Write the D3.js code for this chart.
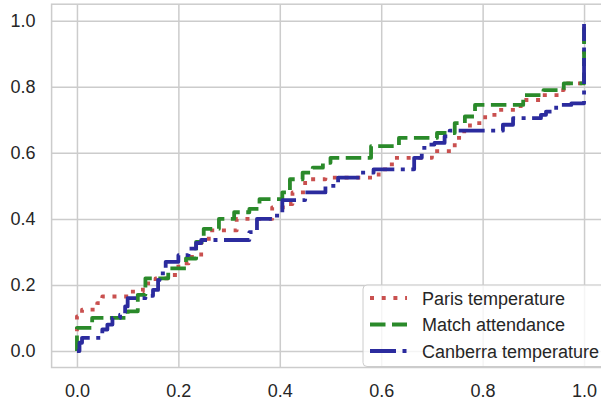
<!DOCTYPE html>
<html>
<head>
<meta charset="utf-8">
<script src="https://cdn.jsdelivr.net/npm/d3@7"></script>
<style>
  body { margin: 0; background: #fff; }
  text { font-family: "Liberation Sans", Arial, sans-serif; fill: #262626; }
</style>
</head>
<body>
<div id="chart"></div>
<script>
// step curves (step after each point)
const parisX = [0, 0, 0.01, 0.04, 0.05, 0.105, 0.13, 0.155, 0.185, 0.2, 0.22, 0.245, 0.26, 0.315, 0.385, 0.41, 0.425, 0.45, 0.49, 0.595, 0.615, 0.625, 0.7, 0.745, 0.76, 0.775, 0.805, 0.83, 0.875, 0.915, 0.95, 0.96, 1.0]
const parisY = [0.06, 0.105, 0.125, 0.145, 0.165, 0.18, 0.205, 0.22, 0.23, 0.265, 0.285, 0.33, 0.365, 0.4, 0.435, 0.445, 0.48, 0.52, 0.525, 0.55, 0.565, 0.585, 0.605, 0.645, 0.665, 0.69, 0.715, 0.73, 0.76, 0.775, 0.79, 0.81, 0.99]

const matchX = [0, 0, 0.03, 0.1, 0.12, 0.135, 0.18, 0.215, 0.235, 0.25, 0.28, 0.31, 0.34, 0.36, 0.405, 0.42, 0.445, 0.465, 0.485, 0.5, 0.58, 0.635, 0.71, 0.745, 0.765, 0.785, 0.88, 0.92, 0.96, 1.0]
const matchY = [0, 0.07, 0.1, 0.12, 0.17, 0.22, 0.25, 0.28, 0.33, 0.37, 0.4, 0.42, 0.43, 0.46, 0.48, 0.52, 0.54, 0.555, 0.57, 0.585, 0.62, 0.645, 0.66, 0.69, 0.71, 0.745, 0.775, 0.79, 0.81, 0.99]

const canberraX = [0, 0.005, 0.01, 0.05, 0.06, 0.07, 0.085, 0.095, 0.1, 0.135, 0.15, 0.16, 0.163, 0.175, 0.2, 0.22, 0.235, 0.245, 0.34, 0.355, 0.39, 0.405, 0.45, 0.49, 0.515, 0.56, 0.585, 0.665, 0.68, 0.69, 0.705, 0.725, 0.735, 0.84, 0.86, 0.915, 0.925, 0.945, 0.975, 1.0]
const canberraY = [0, 0.025, 0.04, 0.065, 0.08, 0.1, 0.11, 0.135, 0.16, 0.167, 0.185, 0.215, 0.235, 0.27, 0.29, 0.31, 0.327, 0.336, 0.36, 0.4, 0.41, 0.457, 0.48, 0.5, 0.525, 0.54, 0.55, 0.585, 0.615, 0.625, 0.63, 0.65, 0.667, 0.685, 0.705, 0.715, 0.725, 0.745, 0.75, 0.99]

const seriesNames = ['Paris temperature', 'Match attendance', 'Canberra temperature']
const xTicks = [0, 0.2, 0.4, 0.6, 0.8, 1.0]
const yTicks = [0, 0.2, 0.4, 0.6, 0.8, 1.0]

const zip = (xs, ys) => xs.map((x, i) => ({ x, y: ys[i] }))

const series = [
  { name: seriesNames[0], values: zip(parisX, parisY), color: '#c9504f', dash: '4 7.7' },
  { name: seriesNames[1], values: zip(matchX, matchY), color: '#2a8a2a', dash: '15.5 6.5' },
  { name: seriesNames[2], values: zip(canberraX, canberraY), color: '#2b2b9e', dash: '26 6.5 4 6.5' }
]

const width = 601
const height = 401
const plot = { left: 51.6, right: 609.4, top: 4.2, bottom: 367.5 }

const xScale = d3.scaleLinear()
  .domain([-0.05, 1.05])
  .range([plot.left, plot.right])

const yScale = d3.scaleLinear()
  .domain([-0.05, 1.05])
  .range([plot.bottom, plot.top])

const svg = d3.select('#chart')
  .append('svg')
  .attr('width', width)
  .attr('height', height)

// grid
svg.append('g')
  .attr('transform', `translate(0,${plot.bottom})`)
  .call(d3.axisBottom(xScale).tickValues(xTicks).tickSize(-(plot.bottom - plot.top)).tickFormat(''))
  .call(g => g.select('.domain').remove())
  .call(g => g.selectAll('line').attr('stroke', '#cccccc').attr('stroke-width', 1.5))

svg.append('g')
  .attr('transform', `translate(${plot.left},0)`)
  .call(d3.axisLeft(yScale).tickValues(yTicks).tickSize(-(plot.right - plot.left)).tickFormat(''))
  .call(g => g.select('.domain').remove())
  .call(g => g.selectAll('line').attr('stroke', '#cccccc').attr('stroke-width', 1.5))

// frame
svg.append('rect')
  .attr('x', plot.left)
  .attr('y', plot.top)
  .attr('width', plot.right - plot.left)
  .attr('height', plot.bottom - plot.top)
  .attr('fill', 'none')
  .attr('stroke', '#cccccc')
  .attr('stroke-width', 1.5)

// tick labels
const xAxis = g => g
  .attr('transform', `translate(0,${plot.bottom})`)
  .call(d3.axisBottom(xScale).tickValues(xTicks).tickSize(0).tickPadding(17).tickFormat(d3.format('.1f')))
  .call(g => g.select('.domain').remove())
  .call(g => g.selectAll('text').attr('font-size', 18).attr('fill', '#262626').attr('font-family', null))

const yAxis = g => g
  .attr('transform', `translate(${plot.left},0)`)
  .call(d3.axisLeft(yScale).tickValues(yTicks).tickSize(0).tickPadding(16).tickFormat(d3.format('.1f')))
  .call(g => g.select('.domain').remove())
  .call(g => g.selectAll('text').attr('font-size', 18).attr('fill', '#262626').attr('font-family', null))

svg.append('g').call(xAxis)
svg.append('g').call(yAxis)

const line = d3.line()
  .x(d => xScale(d.x))
  .y(d => yScale(d.y))
  .curve(d3.curveStepAfter)

svg.append('g')
  .selectAll('path')
  .data(series)
  .join('path')
  .attr('fill', 'none')
  .attr('stroke', d => d.color)
  .attr('stroke-width', 3.8)
  .attr('stroke-dasharray', d => d.dash)
  .attr('stroke-linejoin', 'round')
  .attr('d', d => line(d.values))

// legend
const legend = svg.append('g')

legend.append('rect')
  .attr('x', 363)
  .attr('y', 285)
  .attr('width', 260)
  .attr('height', 81.5)
  .attr('rx', 4)
  .attr('fill', '#ffffff')
  .attr('fill-opacity', 0.8)
  .attr('stroke', '#cccccc')
  .attr('stroke-width', 1)

const rows = legend.selectAll('.row')
  .data(series)
  .join('g')
  .attr('class', 'row')
  .attr('transform', (d, i) => `translate(370,${298 + i * 26.5})`)

rows.append('line')
  .attr('x1', 0)
  .attr('x2', 37)
  .attr('stroke', d => d.color)
  .attr('stroke-width', 3.8)
  .attr('stroke-dasharray', d => d.dash)

rows.append('text')
  .attr('x', 52)
  .attr('y', 6.5)
  .attr('font-size', 18)
  .text(d => d.name)
</script>
</body>
</html>
